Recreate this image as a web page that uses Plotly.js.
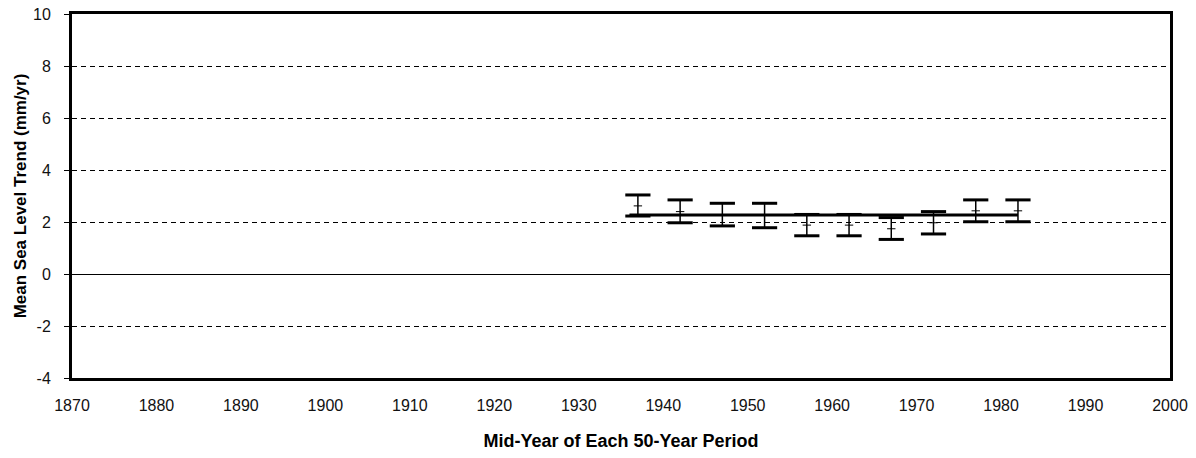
<!DOCTYPE html>
<html><head><meta charset="utf-8">
<script src="https://cdn.plot.ly/plotly-3.0.1.min.js"></script>
<style>body{margin:0;background:#fff}#c{width:1196px;height:458px}</style>
</head><body><div id="c"></div>
<script>
const years = [1937, 1942, 1947, 1952, 1957, 1962, 1967, 1972, 1977, 1982];
const trend = [2.62, 2.40, 2.25, 2.25, 1.88, 1.88, 1.74, 1.97, 2.43, 2.43];
const upper = [3.04, 2.85, 2.72, 2.72, 2.29, 2.29, 2.17, 2.40, 2.85, 2.85];
const lower = [2.23, 1.97, 1.85, 1.78, 1.47, 1.47, 1.33, 1.54, 2.01, 2.01];
const meanYears = [1936, 1982];
const meanTrend = [2.27, 2.27];
const xTicks = [1870,1880,1890,1900,1910,1920,1930,1940,1950,1960,1970,1980,1990,2000];
const yTicks = [-4,-2,0,2,4,6,8,10];
const yTickText = ['-4','-2','0','2','4','6','8','10'];

const errPlus = upper.map((u, i) => u - trend[i]);
const errMinus = trend.map((t, i) => t - lower[i]);

const traces = [
  {x: meanYears, y: meanTrend, mode: 'lines', line: {color: '#000', width: 3}, hoverinfo: 'skip'},
  {x: years, y: trend, mode: 'markers', marker: {symbol: 'line-ew', size: 6, line: {color: '#000', width: 1}},
   error_y: {type: 'data', symmetric: false, array: errPlus, arrayminus: errMinus, color: '#000', thickness: 1.5, width: 0}},
  {x: years, y: upper, mode: 'markers', marker: {symbol: 'line-ew', size: 18, line: {color: '#000', width: 3}}, hoverinfo: 'skip'},
  {x: years, y: lower, mode: 'markers', marker: {symbol: 'line-ew', size: 18, line: {color: '#000', width: 3}}, hoverinfo: 'skip'}
];

const titleFontX = {size: 18, family: 'Liberation Sans Narrow, Liberation Sans, Arial, sans-serif', weight: 'bold', color: '#000'};
const titleFontY = {size: 17, family: 'Liberation Sans Narrow, Liberation Sans, Arial, sans-serif', weight: 'bold', color: '#000'};
const layout = {
  width: 1196, height: 458,
  margin: {l: 72, r: 26, t: 14, b: 80},
  showlegend: false,
  paper_bgcolor: '#fff', plot_bgcolor: '#fff',
  font: {family: 'Liberation Sans, Arial, sans-serif', size: 16, color: '#000'},
  xaxis: {
    range: [1870, 2000], tickvals: xTicks,
    showgrid: false, zeroline: false,
    showline: true, mirror: true, linecolor: '#000', linewidth: 3,
    ticks: '', ticklabelstandoff: 11,
    tickfont: {size: 16, color: '#111'},
    title: {text: 'Mid-Year of Each 50-Year Period', font: titleFontX, standoff: 22}
  },
  yaxis: {
    range: [-4, 10], tickvals: yTicks, ticktext: yTickText,
    showgrid: true, gridcolor: '#000', gridwidth: 1, griddash: '5px,4px',
    zeroline: true, zerolinecolor: '#000', zerolinewidth: 1,
    showline: true, mirror: true, linecolor: '#000', linewidth: 3,
    ticks: 'outside', ticklen: 5, tickcolor: '#000', tickwidth: 1,
    ticklabelstandoff: 10,
    tickfont: {size: 16, color: '#111'},
    title: {text: 'Mean Sea Level Trend (mm/yr)', font: titleFontY, standoff: 3}
  }
};
Plotly.newPlot('c', traces, layout, {displayModeBar: false, staticPlot: true});
</script></body></html>
